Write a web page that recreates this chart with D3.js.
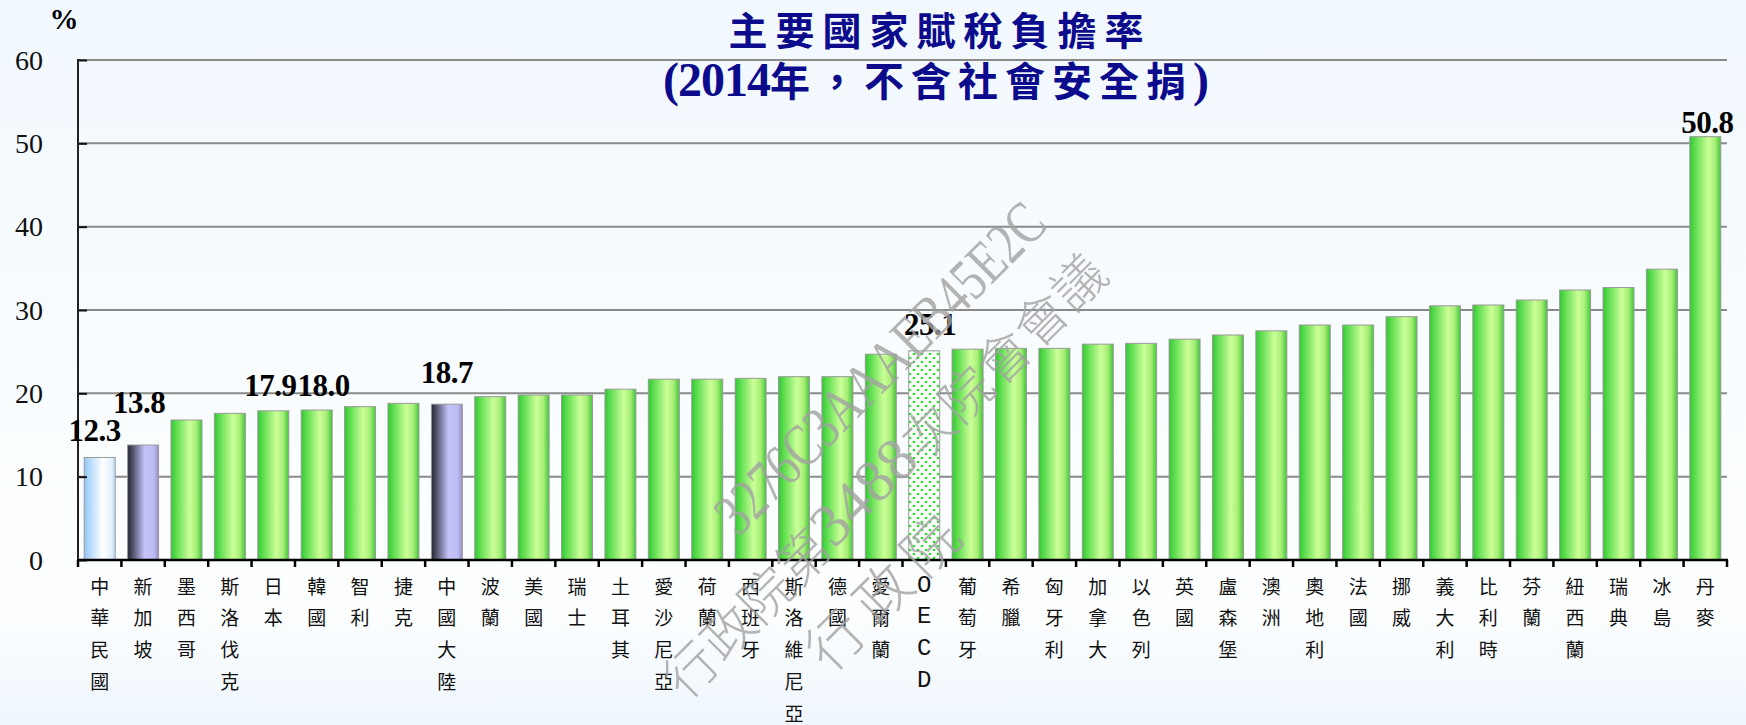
<!DOCTYPE html>
<html>
<head>
<meta charset="utf-8">
<script src="https://cdn.jsdelivr.net/npm/d3@7"></script>
<style>
  html, body { margin: 0; padding: 0; background: #f4f9fe; }
  svg { display: block; }
</style>
</head>
<body>
<svg id="chart" width="1746" height="725"></svg>
<script>
// ---------------- DATA ----------------
const categories = ["中華民國","新加坡","墨西哥","斯洛伐克","日本","韓國","智利","捷克","中國大陸","波蘭",
  "美國","瑞士","土耳其","愛沙尼亞","荷蘭","西班牙","斯洛維尼亞","德國","愛爾蘭","OECD",
  "葡萄牙","希臘","匈牙利","加拿大","以色列","英國","盧森堡","澳洲","奧地利","法國",
  "挪威","義大利","比利時","芬蘭","紐西蘭","瑞典","冰島","丹麥"];
const values = [12.3,13.8,16.8,17.6,17.9,18.0,18.4,18.8,18.7,19.6,
  19.8,19.8,20.5,21.7,21.7,21.8,22.0,22.0,24.7,25.1,
  25.3,25.4,25.4,25.9,26.0,26.5,27.0,27.5,28.2,28.2,
  29.2,30.5,30.6,31.2,32.4,32.7,34.9,50.8];
const labeledCategories = ["中華民國","新加坡","日本","韓國","中國大陸","OECD","丹麥"];
const homeCategory = "中華民國";
const compareCategories = ["新加坡","中國大陸"];
const averageCategory = "OECD";
const yTicks = [0,10,20,30,40,50,60];
const titleLine1 = "主要國家賦稅負擔率";
const titleLine2a = "(2014";
const titleLine2b = "年，不含社會安全捐";
const titleLine2c = ")";
const unitLabel = "%";
const watermark = ["3276C3AAAEB45E2C", "行政院第", "3488", "次院會會議", "行政院"];

// label nudges (style only, pixels): [dx, gap above bar top]
const labelNudge = {"中華民國":[-5,17],"新加坡":[-4,32],"日本":[-3,15],"韓國":[7,14],"中國大陸":[0,21],"OECD":[6,16],"丹麥":[2,4]};

// ---------------- LAYOUT ----------------
const W = 1746, H = 725;
const mLeft = 78, mRight = 1727, mTop = 60, mBottom = 560;
const svg = d3.select("#chart");
const defs = svg.append("defs");

// background
const bg = defs.append("linearGradient").attr("id","bg").attr("x1",0).attr("y1",0).attr("x2",0).attr("y2",1);
bg.append("stop").attr("offset","0%").attr("stop-color","#f1f8fe");
bg.append("stop").attr("offset","55%").attr("stop-color","#fafdff");
bg.append("stop").attr("offset","85%").attr("stop-color","#fcfeff");
bg.append("stop").attr("offset","100%").attr("stop-color","#eef6fd");
svg.append("rect").attr("width",W).attr("height",H).attr("fill","url(#bg)");

function hGrad(id, stops){
  const g = defs.append("linearGradient").attr("id",id).attr("x1",0).attr("y1",0).attr("x2",1).attr("y2",0);
  stops.forEach(s => g.append("stop").attr("offset",s[0]).attr("stop-color",s[1]));
}
hGrad("gGreen", [["0%","#33c633"],["12%","#50d846"],["60%","#ccff99"],["82%","#a6ee76"],["100%","#40c63a"]]);
hGrad("gHome", [["0%","#8ec6f6"],["20%","#b8dcfb"],["60%","#ffffff"],["85%","#e6f3ff"],["100%","#bcdcf8"]]);
hGrad("gCompare", [["0%","#262632"],["18%","#55556e"],["55%","#c4c4fc"],["85%","#bcbcf2"],["100%","#9090c8"]]);

const pat = defs.append("pattern").attr("id","dots").attr("patternUnits","userSpaceOnUse")
  .attr("width",8).attr("height",8);
pat.append("rect").attr("width",8).attr("height",8).attr("fill","#ffffff");
pat.append("circle").attr("cx",2).attr("cy",2).attr("r",1.3).attr("fill","#22e622");
pat.append("circle").attr("cx",6).attr("cy",6).attr("r",1.3).attr("fill","#22e622");

const x = d3.scaleBand().domain(categories).range([mLeft,mRight]).paddingInner(0.286).paddingOuter(0.143);
const y = d3.scaleLinear().domain([0,60]).range([mBottom,mTop]);

// gridlines
svg.append("g").selectAll("line").data(yTicks.filter(d=>d>0)).join("line")
  .attr("x1",mLeft).attr("x2",mRight).attr("y1",d=>y(d)).attr("y2",d=>y(d))
  .attr("stroke","#8a8a8a").attr("stroke-width",2);

// bars
const data = categories.map((c,i)=>({c, v: values[i]}));
svg.append("g").selectAll("rect").data(data).join("rect")
  .attr("x",d=>x(d.c)).attr("width",x.bandwidth())
  .attr("y",d=>y(d.v)).attr("height",d=>y(0)-y(d.v))
  .attr("fill",d=> d.c===homeCategory ? "url(#gHome)" : compareCategories.includes(d.c) ? "url(#gCompare)" : d.c===averageCategory ? "url(#dots)" : "url(#gGreen)")
  .attr("stroke","#9a9a9a").attr("stroke-width",1);

// y axis (ticks inward)
const yAxis = d3.axisRight(y).tickValues(yTicks).tickSize(9).tickFormat("");
const yg = svg.append("g").attr("transform",`translate(${mLeft},0)`).call(yAxis);
yg.select(".domain").remove();
yg.selectAll("line").attr("stroke","#111").attr("stroke-width",2);
svg.append("line").attr("x1",mLeft).attr("x2",mLeft).attr("y1",mTop-1).attr("y2",mBottom+1)
  .attr("stroke","#222").attr("stroke-width",2);
svg.append("g").selectAll("text").data(yTicks).join("text")
  .attr("x",43).attr("y",d=>y(d)).attr("text-anchor","end").attr("dominant-baseline","central")
  .attr("font-family","'Liberation Serif', 'Times New Roman', serif").attr("font-size",28).attr("fill","#111")
  .text(d=>d);

// x axis
svg.append("line").attr("x1",mLeft-1).attr("x2",mRight+1).attr("y1",mBottom).attr("y2",mBottom)
  .attr("stroke","#000").attr("stroke-width",2.5);
const bounds = d3.range(categories.length+1).map(i => mLeft + i*x.step());
svg.append("g").selectAll("line").data(bounds).join("line")
  .attr("x1",d=>d).attr("x2",d=>d).attr("y1",mBottom).attr("y2",mBottom+7)
  .attr("stroke","#000").attr("stroke-width",2.5);

// x labels (vertical stacked)
const xl = svg.append("g");
categories.forEach(c=>{
  const cx = x(c) + x.bandwidth()/2;
  const chars = Array.from(c);
  const latin = /^[A-Za-z]+$/.test(c);
  chars.forEach((ch,i)=>{
    xl.append("text").attr("x",cx).attr("y",585 + i*31.8)
      .attr("text-anchor","middle").attr("dominant-baseline","central")
      .attr("font-family", latin ? "'Liberation Mono', monospace" : "'Noto Sans CJK TC', sans-serif")
      .attr("font-size", latin ? 24 : 19).attr("font-weight", 400)
      .attr("fill","#111").text(ch);
  });
});

// value labels
svg.append("g").selectAll("text").data(data.filter(d=>labeledCategories.includes(d.c))).join("text")
  .attr("x",d=> x(d.c) + x.bandwidth()/2 + (labelNudge[d.c]||[0,6])[0])
  .attr("y",d=> y(d.v) - (labelNudge[d.c]||[0,6])[1])
  .attr("text-anchor","middle")
  .attr("font-family","'Liberation Serif', 'Times New Roman', serif").attr("font-weight","bold")
  .attr("font-size",31).attr("letter-spacing",-0.5).attr("fill","#000")
  .text(d=>d.v.toFixed(1));

// unit
svg.append("text").attr("x",64).attr("y",29).attr("text-anchor","middle")
  .attr("font-family","'Liberation Serif', serif").attr("font-weight","bold").attr("font-size",29)
  .attr("fill","#000").text(unitLabel);

// title
svg.append("text").attr("x",940).attr("y",45).attr("text-anchor","middle")
  .attr("font-family","'Noto Sans CJK TC', sans-serif").attr("font-weight",700).attr("font-size",39)
  .attr("letter-spacing",8).attr("fill","#0b0b8c").text(titleLine1);
const t2 = svg.append("text").attr("x",936).attr("y",96).attr("text-anchor","middle")
  .attr("font-weight",700).attr("font-size",40).attr("fill","#0b0b8c");
t2.append("tspan").attr("font-family","'Liberation Serif', serif").attr("font-size",48).attr("letter-spacing",-1).text(titleLine2a);
t2.append("tspan").attr("font-family","'Noto Sans CJK TC', sans-serif").attr("letter-spacing",7).text(titleLine2b);
t2.append("tspan").attr("font-family","'Liberation Serif', serif").attr("font-size",48).text(titleLine2c);

// watermark
const wm = svg.append("g").attr("fill","#a2a2a2").attr("opacity",0.8);
wm.append("text").attr("transform","translate(880,368) rotate(-45)")
  .attr("text-anchor","middle").attr("dominant-baseline","central")
  .attr("font-family","'Liberation Serif', serif").attr("font-size",60)
  .attr("textLength",440).attr("lengthAdjust","spacingAndGlyphs").text(watermark[0]);
const w2 = wm.append("text").attr("transform","translate(882,473) rotate(-45)")
  .attr("text-anchor","middle").attr("dominant-baseline","central")
  .attr("font-size",52).attr("font-weight",300)
  .attr("textLength",600).attr("lengthAdjust","spacing");
w2.append("tspan").attr("font-family","'Noto Sans CJK TC', sans-serif").text(watermark[1]);
w2.append("tspan").attr("font-family","'Liberation Serif', serif").attr("font-size",60).text(watermark[2]);
w2.append("tspan").attr("font-family","'Noto Sans CJK TC', sans-serif").text(watermark[3]);
wm.append("text").attr("transform","translate(880,590) rotate(-45)")
  .attr("text-anchor","middle").attr("dominant-baseline","central")
  .attr("font-family","'Noto Sans CJK TC', sans-serif").attr("font-size",56).attr("font-weight",300)
  .attr("textLength",190).attr("lengthAdjust","spacing").text(watermark[4]);
</script>
</body>
</html>
